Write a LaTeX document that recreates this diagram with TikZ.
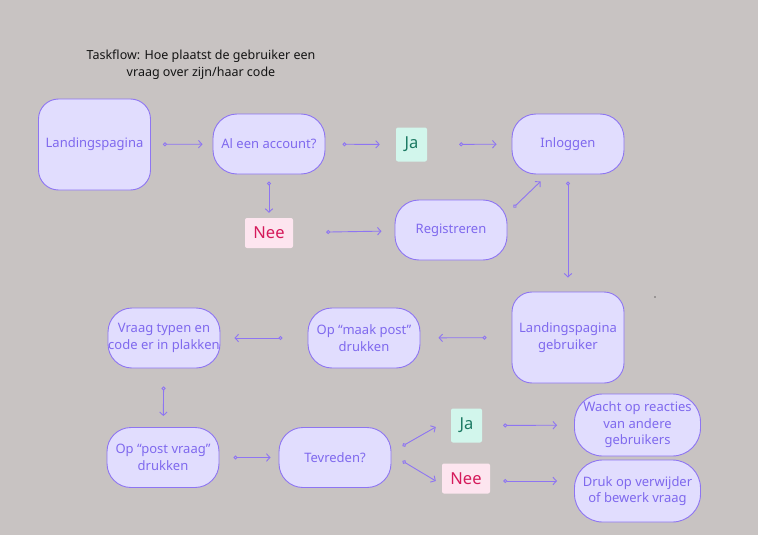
\documentclass[tikz,border=0pt]{standalone}
\usepackage{fontspec}
\setmainfont{Noto Sans}
\usepackage{xcolor}
\usetikzlibrary{arrows.meta}
\usetikzlibrary{positioning}
\definecolor{bgGrey}{HTML}{C8C3C2}
\definecolor{boxFill}{HTML}{E1DDFE}
\definecolor{boxLine}{HTML}{8E75F2}
\definecolor{boxText}{HTML}{7F69EE}
\definecolor{jaFill}{HTML}{D2F6EC}
\definecolor{jaText}{HTML}{1C7A63}
\definecolor{neeFill}{HTML}{FDE5EF}
\definecolor{neeText}{HTML}{D51A5B}

\begin{document}
\begin{tikzpicture}[x=1pt,y=-1pt]
  % Define styles for steps and answers
  \tikzset{
    stepbox/.style={
      draw=boxLine,
      fill=boxFill,
      text=boxText,
      rounded corners=24pt,
      minimum width=112pt,
      minimum height=60pt,
      inner sep=0pt,
      align=center,
      line width=0.9pt,
      font=\fontsize{13}{16.5}\selectfont
    },
    tallbox/.style={
      stepbox,
      rounded corners=20pt,
      minimum height=91pt
    },
    wide/.style={
      stepbox,
      rounded corners=28pt,
      minimum width=126pt,
      minimum height=62pt
    },
    jabox/.style={
      fill=jaFill,
      text=jaText,
      rounded corners=2pt,
      minimum width=31pt,
      minimum height=34pt,
      inner sep=0pt,
      font=\fontsize{16.5}{18}\selectfont
    },
    neebox/.style={
      fill=neeFill,
      text=neeText,
      rounded corners=2pt,
      minimum width=48pt,
      minimum height=30pt,
      inner sep=0pt,
      font=\fontsize{16.5}{18}\selectfont
    },
    flow/.style={
      draw=boxLine,
      line width=0.9pt,
      {Circle[open,length=4pt,width=4pt]}-{Straight Barb[length=3.5pt,width=7.5pt]}
    }
  }

  % Background
  \fill[bgGrey] (0,0) rectangle (758,535);
  \useasboundingbox (0,0) rectangle (758,535);

  % Title
  \node[align=center, text=black!92, font=\fontsize{12.5}{17}\selectfont] (title) at (201,64.5)
    {Taskflow: Hoe plaatst de gebruiker een\\vraag over zijn/haar code};

  % Create the steps
  \node[tallbox] (land) at (94.5,144.5) {Landingspagina};
  \node[stepbox] (acc) at (269,144) {Al een account?};
  \node[jabox] (ja1) at (411.5,144.5) {Ja};
  \node[stepbox] (login) at (568,144) {Inloggen};
  \node[neebox] (nee1) at (269,233) {Nee};
  \node[stepbox] (reg) at (451,230) {Registreren};
  \node[tallbox] (landg) at (568,337.5) {Landingspagina\\gebruiker};
  \node[stepbox] (post) at (364,338) {Op “maak post”\\drukken};
  \node[stepbox] (vraag) at (164,338) {Vraag typen en\\code er in plakken};
  \node[stepbox] (postv) at (163,457.5) {Op “post vraag”\\drukken};
  \node[stepbox] (tev) at (335,457.5) {Tevreden?};
  \node[jabox] (ja2) at (466.5,425.5) {Ja};
  \node[neebox] (nee2) at (466,478.5) {Nee};
  \node[wide] (wacht) at (637.5,425) {Wacht op reacties\\van andere\\gebruikers};
  \node[wide] (druk) at (637.5,491) {Druk op verwijder\\of bewerk vraag};

  % Draw the straight connectors
  \foreach \a/\b/\s/\e in {land/acc/12/10, acc/ja1/17/16, ja1/login/32/15,
      acc/nee1/7/5, nee1/reg/33/13, login/landg/7/14, landg/post/25/18,
      post/vraag/25/14, vraag/postv/18/11, postv/tev/14/8, ja2/wacht/21/17} {
    \draw[flow, shorten <=\s pt, shorten >=\e pt] (\a) -- (\b);
  }

  % Draw the slanted connectors
  \draw[flow] ([xshift=6pt,yshift=-8pt]reg.north east) -- ([xshift=29pt,yshift=-7pt]login.south west);
  \draw[flow] ([xshift=11pt,yshift=11.5pt]tev.east) -- ([xshift=-15pt,yshift=-1.5pt]ja2.west);
  \draw[flow] ([xshift=11pt,yshift=-3.5pt]tev.east) -- ([xshift=-6pt,yshift=-2.5pt]nee2.west);
  \draw[flow, shorten <=13pt, shorten >=17pt] ([yshift=-2.5pt]nee2.east) -- ([yshift=-2.5pt]nee2.east -| druk.west);

  % Stray dot
  \fill[black] (655,297) circle (0.6pt);
\end{tikzpicture}
\end{document}
